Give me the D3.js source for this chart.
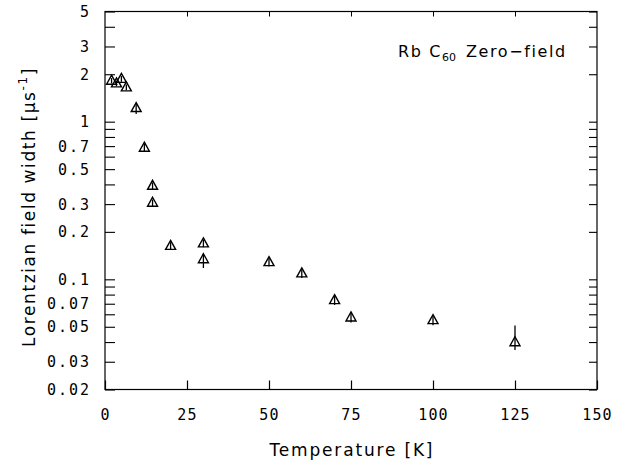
<!DOCTYPE html>
<html>
<head>
<meta charset="utf-8">
<script src="https://cdn.jsdelivr.net/npm/d3@7"></script>
<style>
    body { margin: 0; background: #fff; }
    text { fill: #000; }
</style>
</head>
<body>
<div id="chart"></div>
<script>
// Rb C60 zero-field data
const temperatures = [2, 3.5, 5, 6.5, 9.5, 12, 14.5, 14.5, 20, 30, 30, 50, 60, 70, 75, 100, 125]
const widths = [1.82, 1.75, 1.87, 1.65, 1.22, 0.684, 0.392, 0.306, 0.163, 0.169, 0.134, 0.1285, 0.109, 0.0738, 0.0573, 0.0551, 0.0399]
const errLow = [0.07, 0.07, 0.08, 0.07, 0.1, 0.04, 0.02, 0.015, 0.009, 0.009, 0.016, 0.008, 0.007, 0.005, 0.004, 0.004, 0.0043]
const errHigh = [0.07, 0.07, 0.08, 0.07, 0.1, 0.04, 0.02, 0.015, 0.009, 0.009, 0.012, 0.008, 0.007, 0.005, 0.004, 0.004, 0.011]

const xTicks = [0, 25, 50, 75, 100, 125, 150]
const yTickLabels = [5, 3, 2, 1, 0.7, 0.5, 0.3, 0.2, 0.1, 0.07, 0.05, 0.03, 0.02]
const yMinorTicks = [4, 0.9, 0.8, 0.6, 0.4, 0.09, 0.08, 0.06, 0.04]

const WIDTH = 626
const HEIGHT = 464
const MARGIN = { TOP: 11.5, RIGHT: 29, BOTTOM: 74.5, LEFT: 105 }

const svg = d3.select('#chart')
    .append('svg')
    .attr('width', WIDTH)
    .attr('height', HEIGHT)

svg.append('rect')
    .attr('width', WIDTH)
    .attr('height', HEIGHT)
    .attr('fill', '#fff')

const x = d3.scaleLinear()
    .domain([0, 150])
    .range([MARGIN.LEFT, WIDTH - MARGIN.RIGHT])

const y = d3.scaleLog()
    .domain([0.02, 5])
    .range([HEIGHT - MARGIN.BOTTOM, MARGIN.TOP])

const tickFont = '"DejaVu Sans Mono", monospace'
const labelFont = '"DejaVu Sans", sans-serif'

// frame
svg.append('rect')
    .attr('x', x(0))
    .attr('y', y(5))
    .attr('width', x(150) - x(0))
    .attr('height', y(0.02) - y(5))
    .attr('fill', 'none')
    .attr('stroke', '#000')
    .attr('stroke-width', 1.2)

// bottom axis, ticks pointing inward
const xAxisBottom = d3.axisBottom(x)
    .tickValues(xTicks)
    .tickSize(-9)
    .tickPadding(20)
    .tickFormat(d3.format('d'))

svg.append('g')
    .attr('transform', `translate(0,${y(0.02)})`)
    .call(xAxisBottom)
    .call((g) => g.select('.domain').remove())
    .call((g) => g.selectAll('line').attr('stroke-width', 1.2))
    .call((g) => g.selectAll('text')
        .attr('font-family', tickFont)
        .attr('font-size', 15)
        .attr('letter-spacing', 1.2))

// top axis
const xAxisTop = d3.axisTop(x)
    .tickValues(xTicks.slice(1, -1))
    .tickSize(-5)
    .tickFormat('')

svg.append('g')
    .attr('transform', `translate(0,${y(5)})`)
    .call(xAxisTop)
    .call((g) => g.select('.domain').remove())

// left axis
const yAllTicks = yTickLabels.concat(yMinorTicks)

svg.append('g')
    .attr('transform', `translate(${x(0)},0)`)
    .call(d3.axisLeft(y).tickValues(yAllTicks).tickSize(-10).tickFormat(''))
    .call((g) => g.select('.domain').remove())
    .call((g) => g.selectAll('line').attr('stroke-width', 1.1))

svg.append('g')
    .selectAll('text')
    .data(yTickLabels)
    .join('text')
    .attr('x', 91)
    .attr('y', (d) => y(d))
    .attr('dy', '0.36em')
    .attr('text-anchor', 'end')
    .attr('font-family', tickFont)
    .attr('font-size', 15)
    .attr('letter-spacing', 2)
    .text((d) => String(d))

// right axis
svg.append('g')
    .attr('transform', `translate(${x(150)},0)`)
    .call(d3.axisRight(y).tickValues(yAllTicks).tickSize(-8).tickFormat(''))
    .call((g) => g.select('.domain').remove())
    .call((g) => g.selectAll('line').attr('stroke-width', 1.1))

// axis titles
svg.append('text')
    .attr('x', 351)
    .attr('y', 456)
    .attr('text-anchor', 'middle')
    .attr('font-family', labelFont)
    .attr('font-size', 17)
    .attr('textLength', 163)
    .attr('lengthAdjust', 'spacing')
    .text('Temperature [K]')

const yTitle = svg.append('text')
    .attr('transform', 'translate(35,207) rotate(-90)')
    .attr('text-anchor', 'middle')
    .attr('font-family', labelFont)
    .attr('font-size', 17)
    .attr('letter-spacing', 1.6)

yTitle.append('tspan').text('Lorentzian field width [μs')
yTitle.append('tspan').attr('dy', -8).attr('font-size', 12).text('-1')
yTitle.append('tspan').attr('dy', 8).text(']')

// annotation
const note = svg.append('text')
    .attr('x', 398)
    .attr('y', 57)
    .attr('font-family', labelFont)
    .attr('font-size', 16)
    .attr('letter-spacing', 1.6)

note.append('tspan').text('Rb C')
note.append('tspan').attr('dy', 4).attr('font-size', 11).attr('letter-spacing', 0).text('60')
note.append('tspan').attr('dy', -4).attr('dx', 10).text('Zero−field')

// data
const points = temperatures.map((t, i) => ({
    t,
    v: widths[i],
    lo: widths[i] - errLow[i],
    hi: widths[i] + errHigh[i],
}))

const marks = svg.append('g')
    .attr('stroke', '#000')
    .attr('fill', 'none')

marks.selectAll('line')
    .data(points)
    .join('line')
    .attr('x1', (d) => x(d.t))
    .attr('x2', (d) => x(d.t))
    .attr('y1', (d) => y(d.lo))
    .attr('y2', (d) => y(d.hi))
    .attr('stroke-width', 1.3)

marks.selectAll('path')
    .data(points)
    .join('path')
    .attr('transform', (d) => `translate(${x(d.t)},${y(d.v)})`)
    .attr('d', 'M0,-5.5L5,3.5L-5,3.5Z')
    .attr('stroke-width', 1.4)
    .attr('stroke-linejoin', 'miter')
</script>
</body>
</html>
